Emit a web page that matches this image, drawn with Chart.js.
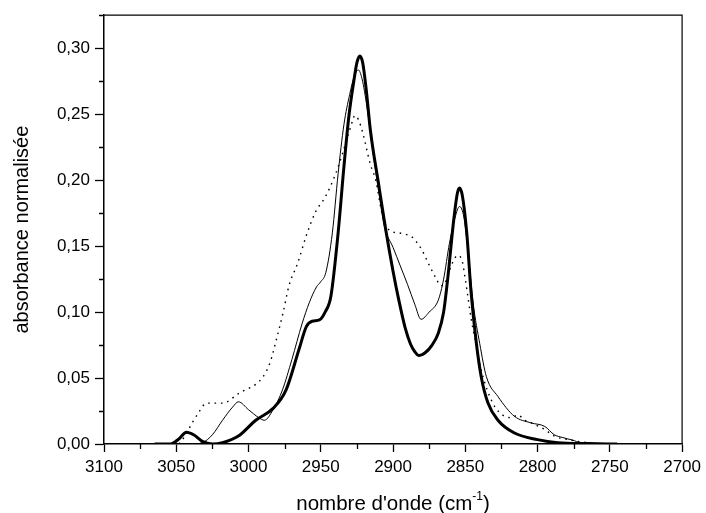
<!DOCTYPE html>
<html>
<head>
<meta charset="utf-8">
<script src="https://cdn.jsdelivr.net/npm/chart.js@4.4.1/dist/chart.umd.min.js"></script>
<style>
  html, body { margin: 0; padding: 0; background: #fff; }
  canvas { display: block; }
</style>
</head>
<body>
<canvas id="spectrum" width="706" height="513"></canvas>
<script>
// wavenumbers (cm-1) and normalised absorbance
const thickWavenumber = [3065, 3054, 3048, 3043, 3038, 3032, 3025, 3018, 3007, 2995, 2983, 2974, 2965, 2960, 2956, 2951, 2947, 2943, 2938, 2934, 2930.6, 2927, 2925, 2923, 2921, 2918.5, 2915.7, 2910, 2905, 2900, 2896, 2891.6, 2888, 2885, 2882, 2878, 2873, 2868.7, 2865, 2862, 2858, 2855.5, 2854, 2852, 2849, 2846, 2842.3, 2839, 2834.3, 2827.4, 2816, 2800, 2786, 2765, 2745];
const thickAbsorbance = [0, 0, 0.004, 0.009, 0.007, 0.002, 0, 0.001, 0.006, 0.018, 0.027, 0.041, 0.072, 0.089, 0.093, 0.094, 0.100, 0.112, 0.160, 0.210, 0.248, 0.276, 0.289, 0.294, 0.289, 0.268, 0.238, 0.197, 0.162, 0.131, 0.109, 0.088, 0.076, 0.070, 0.067, 0.069, 0.075, 0.084, 0.100, 0.127, 0.170, 0.190, 0.194, 0.188, 0.160, 0.115, 0.076, 0.051, 0.031, 0.018, 0.0083, 0.0033, 0.001, 0.0003, 0];

const thinWavenumber = [3065, 3040, 3032, 3025, 3018, 3011, 3007, 3000, 2993, 2989, 2983, 2976.5, 2970, 2963, 2958, 2953, 2950, 2946.5, 2942, 2938, 2934, 2930, 2927, 2924, 2921.5, 2918, 2914, 2910, 2906, 2900, 2895, 2890, 2885, 2880.6, 2875, 2868.7, 2865, 2861, 2857, 2854, 2851, 2848, 2844.6, 2840, 2835.4, 2827.4, 2816, 2804.5, 2795, 2788.4, 2783, 2776, 2770, 2745];
const thinAbsorbance = [0, 0, 0.001, 0.007, 0.018, 0.028, 0.032, 0.026, 0.020, 0.018, 0.026, 0.041, 0.064, 0.091, 0.107, 0.119, 0.123, 0.130, 0.160, 0.205, 0.242, 0.265, 0.278, 0.2835, 0.277, 0.255, 0.222, 0.192, 0.165, 0.149, 0.135, 0.121, 0.106, 0.0945, 0.100, 0.109, 0.125, 0.152, 0.172, 0.180, 0.172, 0.145, 0.107, 0.076, 0.051, 0.036, 0.021, 0.016, 0.0133, 0.007, 0.005, 0.003, 0.001, 0];

const dottedWavenumber = [3048, 3044, 3040, 3035, 3029, 3018, 3006.6, 2990.6, 2985, 2981, 2976, 2972, 2966, 2960, 2953.6, 2947, 2940, 2935, 2930.6, 2928, 2926.5, 2924, 2921, 2915.7, 2912, 2907.7, 2904, 2900.8, 2896, 2891.6, 2887, 2883.7, 2880, 2875.6, 2870, 2867, 2864, 2861.8, 2857.2, 2855, 2852, 2850.3, 2845.8, 2843.4, 2839, 2831, 2822.8, 2818, 2813.6, 2809, 2804.5, 2795, 2788.4, 2777, 2760];
const dottedAbsorbance = [0, 0.006, 0.014, 0.023, 0.031, 0.031, 0.0385, 0.050, 0.062, 0.078, 0.100, 0.120, 0.137, 0.158, 0.176, 0.187, 0.204, 0.220, 0.236, 0.245, 0.249, 0.246, 0.236, 0.212, 0.200, 0.175, 0.164, 0.161, 0.160, 0.159, 0.157, 0.153, 0.147, 0.137, 0.125, 0.120, 0.122, 0.129, 0.141, 0.143, 0.138, 0.127, 0.094, 0.080, 0.056, 0.031, 0.021, 0.020, 0.022, 0.018, 0.016, 0.011, 0.006, 0.003, 0];

const xTitle = "nombre d'onde (cm";
const xTitleSup = '-1';
const yTitle = 'absorbance normalisée';

const fontFamily = '"Liberation Sans", Arial, Helvetica, sans-serif';

function toPoints(xs, ys) {
  return xs.map((x, i) => ({ x: x, y: ys[i] }));
}

// minor ticks, box frame and the x title with a real superscript
const decorations = {
  id: 'decorations',
  afterDraw(chart) {
    const ctx = chart.ctx;
    const area = chart.chartArea;
    const xs = chart.scales.x;
    const ys = chart.scales.y;
    ctx.save();
    ctx.strokeStyle = '#000';
    ctx.lineWidth = 1.2;
    ctx.beginPath();
    ctx.moveTo(area.left, area.top);
    ctx.lineTo(area.right, area.top);
    ctx.lineTo(area.right, area.bottom);
    ctx.stroke();

    ctx.lineWidth = 1.3;
    ctx.beginPath();
    for (let v = xs.min + 25; v < xs.max; v += 50) {
      const px = Math.round(xs.getPixelForValue(v)) + 0.5;
      ctx.moveTo(px, area.bottom);
      ctx.lineTo(px, area.bottom + 5);
    }
    for (let v = 0.025; v <= ys.max + 1e-9; v += 0.05) {
      const py = Math.round(ys.getPixelForValue(v)) + 0.5;
      ctx.moveTo(area.left, py);
      ctx.lineTo(area.left - 5, py);
    }
    ctx.stroke();

    ctx.fillStyle = '#000';
    ctx.textBaseline = 'alphabetic';
    ctx.textAlign = 'left';
    ctx.font = '20.5px ' + fontFamily;
    const w1 = ctx.measureText(xTitle).width;
    const w3 = ctx.measureText(')').width;
    ctx.font = '12px ' + fontFamily;
    const w2 = ctx.measureText(xTitleSup).width;
    const x0 = (area.left + area.right) / 2 - (w1 + w2 + w3) / 2;
    const base = 510;
    ctx.font = '20.5px ' + fontFamily;
    ctx.fillText(xTitle, x0, base);
    ctx.font = '12px ' + fontFamily;
    ctx.fillText(xTitleSup, x0 + w1, base - 10);
    ctx.font = '20.5px ' + fontFamily;
    ctx.fillText(')', x0 + w1 + w2, base);
    ctx.restore();
  }
};

new Chart(document.getElementById('spectrum').getContext('2d'), {
  type: 'scatter',
  data: {
    datasets: [
      {
        label: 'thick',
        data: toPoints(thickWavenumber, thickAbsorbance),
        borderColor: '#000',
        borderWidth: 3,
        showLine: true,
        pointRadius: 0,
        cubicInterpolationMode: 'monotone',
      },
      {
        label: 'thin',
        data: toPoints(thinWavenumber, thinAbsorbance),
        borderColor: '#000',
        borderWidth: 1,
        showLine: true,
        pointRadius: 0,
        cubicInterpolationMode: 'monotone',
      },
      {
        label: 'dotted',
        data: toPoints(dottedWavenumber, dottedAbsorbance),
        borderColor: '#000',
        borderWidth: 1.4,
        borderDash: [1.6, 4.8],
        showLine: true,
        pointRadius: 0,
        cubicInterpolationMode: 'monotone',
      },
    ],
  },
  options: {
    responsive: false,
    animation: false,
    devicePixelRatio: 1,
    layout: { padding: { top: 14, right: 21, left: 0, bottom: 0 } },
    plugins: {
      legend: { display: false },
      tooltip: { enabled: false },
    },
    scales: {
      x: {
        type: 'linear',
        reverse: true,
        min: 2700,
        max: 3100,
        afterFit(scale) { scale.height = 69; },
        border: { display: true, color: '#000', width: 1.5 },
        grid: { drawOnChartArea: false, color: '#000', tickLength: 8, tickWidth: 1.3, tickColor: '#000' },
        ticks: {
          stepSize: 50,
          color: '#000',
          padding: 5,
          maxRotation: 0,
          font: { family: fontFamily, size: 17 },
          callback: (v) => String(v),
        },
        title: { display: false },
      },
      y: {
        min: 0,
        max: 0.325,
        afterFit(scale) { scale.width = 104; },
        border: { display: true, color: '#000', width: 1.5 },
        grid: { drawOnChartArea: false, color: '#000', tickLength: 9, tickWidth: 1.3, tickColor: '#000' },
        ticks: {
          stepSize: 0.05,
          includeBounds: false,
          color: '#000',
          padding: 5,
          font: { family: fontFamily, size: 17 },
          callback: (v) => v.toFixed(2).replace('.', ','),
        },
        title: {
          display: true,
          text: yTitle,
          color: '#000',
          padding: { top: 10, bottom: 0 },
          font: { family: fontFamily, size: 20 },
        },
      },
    },
  },
  plugins: [decorations],
});
</script>
</body>
</html>
